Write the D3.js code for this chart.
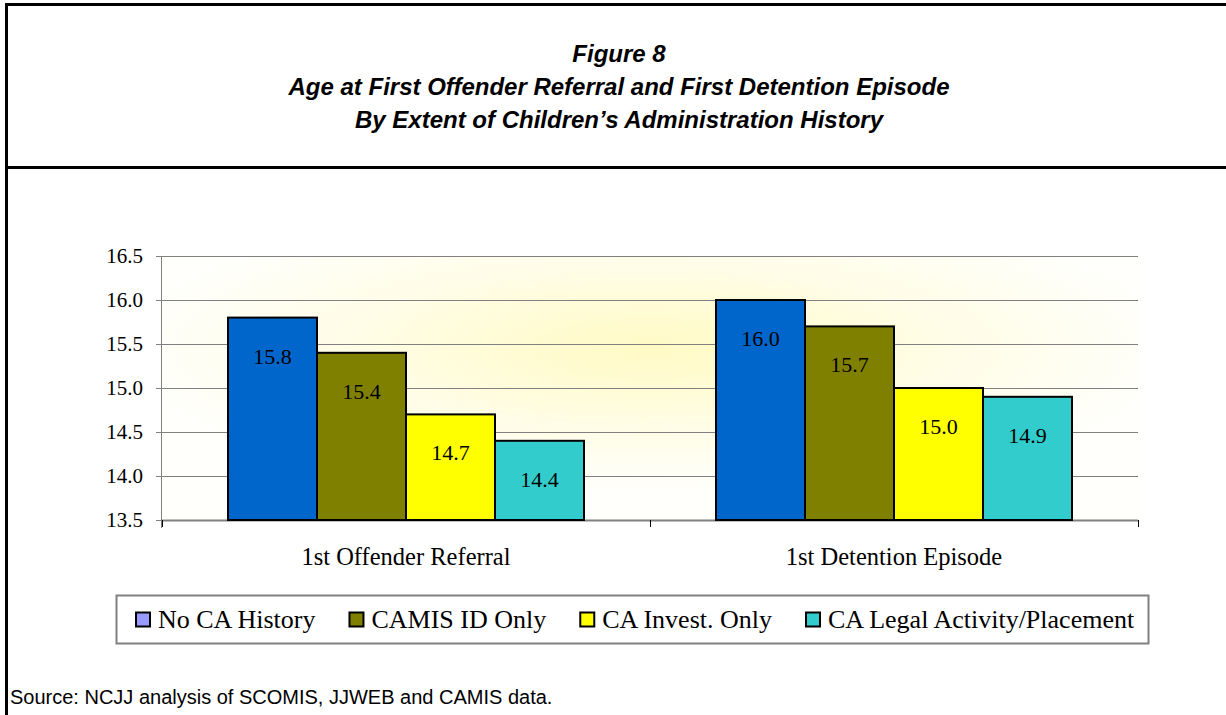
<!DOCTYPE html>
<html>
<head>
<meta charset="utf-8">
<script src="https://cdn.jsdelivr.net/npm/d3@7"></script>
<style>
  body { margin: 0; background: #fff; }
  svg { display: block; }
</style>
</head>
<body>
<svg id="container"></svg>
<script>
const categories = ['1st Offender Referral', '1st Detention Episode'];
const seriesNames = ['No CA History', 'CAMIS ID Only', 'CA Invest. Only', 'CA Legal Activity/Placement'];
const noHistory = [15.8, 16.0];
const camisOnly = [15.4, 15.7];
const investOnly = [14.7, 15.0];
const legalActivity = [14.4, 14.9];
const yTicks = [13.5, 14.0, 14.5, 15.0, 15.5, 16.0, 16.5];
const titleLines = [
  'Figure 8',
  'Age at First Offender Referral and First Detention Episode',
  'By Extent of Children\u2019s Administration History'
];

const barColors = ['#0066CC', '#808000', '#FFFF00', '#33CCCC'];
const legendColors = ['#9999FF', '#808000', '#FFFF00', '#33CCCC'];
const seriesValues = [noHistory, camisOnly, investOnly, legalActivity];

const W = 1226, H = 715;
const serif = 'Liberation Serif, Times New Roman, serif';
const sans = 'Liberation Sans, Arial, sans-serif';
const svg = d3.select('#container').attr('width', W).attr('height', H);

// frame
svg.append('line').attr('x1', 6.5).attr('x2', 6.5).attr('y1', 3).attr('y2', H)
  .attr('stroke', '#000').attr('stroke-width', 3);
svg.append('line').attr('x1', 5).attr('x2', W).attr('y1', 4.5).attr('y2', 4.5)
  .attr('stroke', '#000').attr('stroke-width', 3);
svg.append('line').attr('x1', 5).attr('x2', W).attr('y1', 167.5).attr('y2', 167.5)
  .attr('stroke', '#000').attr('stroke-width', 3);

// title
svg.append('g').selectAll('text')
  .data(titleLines)
  .enter()
  .append('text')
  .attr('x', 619)
  .attr('y', (d, i) => 62 + i * 33)
  .attr('text-anchor', 'middle')
  .style('font-family', sans)
  .style('font-weight', 'bold')
  .style('font-style', 'italic')
  .style('font-size', '24px')
  .text((d) => d);

const margin = { top: 256, left: 162 };
const w = 976, h = 264;

const g = svg.append('g')
  .attr('transform', 'translate(' + margin.left + ',' + margin.top + ')');

const defs = svg.append('defs');
const grad = defs.append('radialGradient')
  .attr('id', 'bg')
  .attr('cx', '0.5').attr('cy', '0.35').attr('r', '0.55')
  .attr('fx', '0.5').attr('fy', '0.35');
grad.append('stop').attr('offset', '0%').attr('stop-color', '#FFFAC4');
grad.append('stop').attr('offset', '55%').attr('stop-color', '#FFFDE6');
grad.append('stop').attr('offset', '100%').attr('stop-color', '#FFFFFC');

g.append('rect').attr('width', w).attr('height', h).attr('fill', 'url(#bg)');

const x0 = d3.scaleBand().domain(categories).range([0, w]).paddingInner(0).paddingOuter(0);
const groupPad = 66;
const x1 = d3.scaleBand().domain(d3.range(seriesNames.length))
  .range([groupPad, x0.bandwidth() - groupPad]);
const y = d3.scaleLinear().domain([13.5, 16.5]).range([h, 0]);

// gridlines
g.append('g').selectAll('line')
  .data(yTicks.slice(1))
  .enter()
  .append('line')
  .attr('x1', 0).attr('x2', w)
  .attr('y1', (d) => Math.round(y(d)) + 0.5)
  .attr('y2', (d) => Math.round(y(d)) + 0.5)
  .attr('stroke', '#808080').attr('stroke-width', 1);

// y axis
const yAxis = d3.axisLeft(y).tickValues(yTicks).tickFormat(d3.format('.1f')).tickSize(6).tickPadding(13);
const gY = g.append('g').attr('class', 'axis y-axis').call(yAxis);
gY.select('.domain').attr('stroke', '#808080').attr('d', 'M-0.5,0V' + (h + 8));
gY.selectAll('.tick line').attr('stroke', '#808080');
gY.selectAll('.tick text')
  .style('font-family', serif)
  .style('font-size', '21px')
  .attr('fill', '#000');

// x axis
const gX = g.append('g').attr('transform', 'translate(0,' + h + ')');
gX.append('line').attr('x1', 0).attr('x2', w).attr('y1', 0.5).attr('y2', 0.5)
  .attr('stroke', '#808080').attr('stroke-width', 2);
gX.selectAll('.xtick')
  .data(d3.range(categories.length + 1))
  .enter()
  .append('line')
  .attr('x1', (d) => Math.round(d * x0.step()) + 0.5)
  .attr('x2', (d) => Math.round(d * x0.step()) + 0.5)
  .attr('y1', 0).attr('y2', 7)
  .attr('stroke', '#000');
gX.selectAll('.xlabel')
  .data(categories)
  .enter()
  .append('text')
  .attr('x', (d) => x0(d) + x0.bandwidth() / 2)
  .attr('y', 45)
  .attr('text-anchor', 'middle')
  .style('font-family', serif)
  .style('font-size', '24.5px')
  .text((d) => d);

// bars
const groups = g.selectAll('.grp')
  .data(categories)
  .enter()
  .append('g')
  .attr('transform', (d) => 'translate(' + x0(d) + ',0)');

groups.selectAll('rect')
  .data((d, ci) => seriesValues.map((vals, si) => ({ si: si, v: vals[ci] })))
  .enter()
  .append('rect')
  .attr('x', (d) => x1(d.si))
  .attr('y', (d) => y(d.v))
  .attr('width', x1.bandwidth())
  .attr('height', (d) => h - y(d.v))
  .attr('fill', (d) => barColors[d.si])
  .attr('stroke', '#000')
  .attr('stroke-width', 2);

groups.selectAll('.val')
  .data((d, ci) => seriesValues.map((vals, si) => ({ si: si, v: vals[ci] })))
  .enter()
  .append('text')
  .attr('x', (d) => x1(d.si) + x1.bandwidth() / 2)
  .attr('y', (d) => y(d.v) + 46)
  .attr('text-anchor', 'middle')
  .style('font-family', serif)
  .style('font-size', '22px')
  .text((d) => d.v.toFixed(1));

// legend
const legend = svg.append('g');
legend.append('rect')
  .attr('x', 116.5).attr('y', 595.5).attr('width', 1032).attr('height', 48)
  .attr('fill', '#fff').attr('stroke', '#808080').attr('stroke-width', 2);

let lx = 136;
seriesNames.forEach((name, i) => {
  legend.append('rect')
    .attr('x', lx).attr('y', 612.5).attr('width', 14).attr('height', 14)
    .attr('fill', legendColors[i]).attr('stroke', '#000').attr('stroke-width', 2);
  const t = legend.append('text')
    .attr('x', lx + 22).attr('y', 628)
    .style('font-family', serif)
    .style('font-size', '26px')
    .text(name);
  lx += 22 + t.node().getComputedTextLength() + 34;
});

// source
svg.append('text')
  .attr('x', 10).attr('y', 704)
  .style('font-family', sans)
  .style('font-size', '20px')
  .text('Source: NCJJ analysis of SCOMIS, JJWEB and CAMIS data.');
</script>
</body>
</html>
